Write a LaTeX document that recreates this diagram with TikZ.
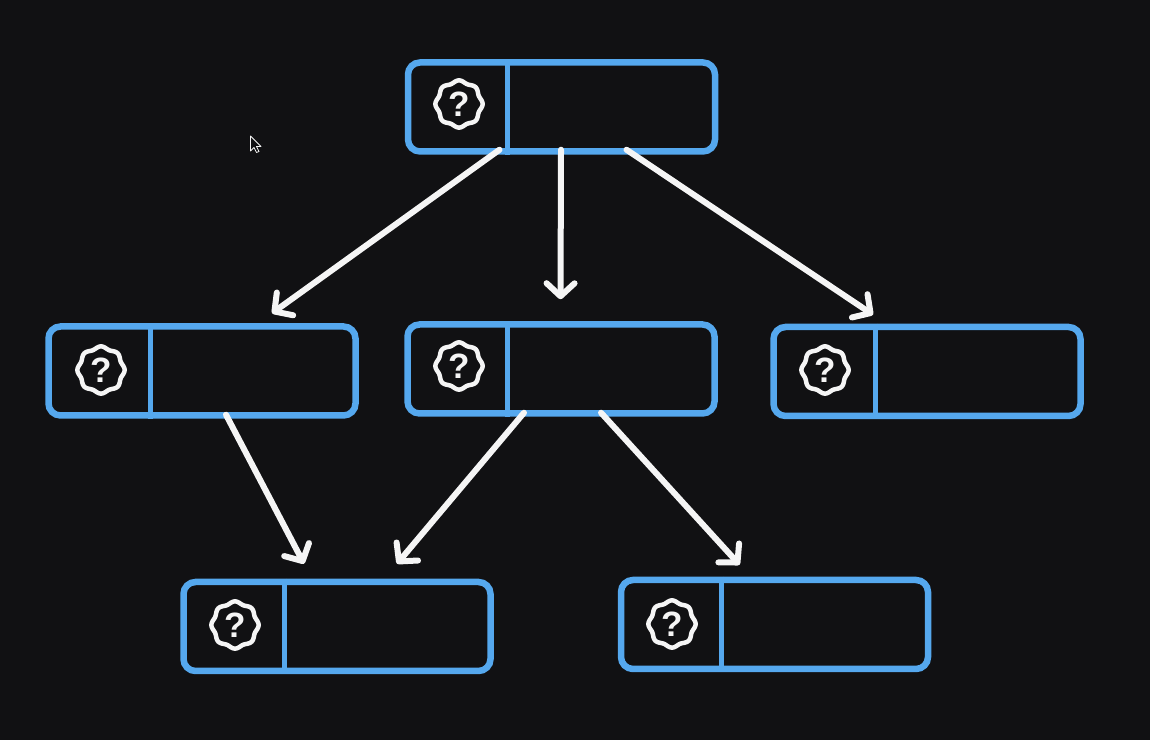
\documentclass[tikz,border=0pt]{standalone}
\usepackage{fontspec}
\setsansfont{Liberation Sans}
\usepackage{tikz}
\usetikzlibrary{arrows.meta}
\definecolor{sketchbg}{RGB}{17, 17, 19}
\definecolor{sketchblue}{RGB}{85, 168, 238}
\definecolor{sketchwhite}{RGB}{245, 245, 245}

\begin{document}
\begin{tikzpicture}[
    card/.style={draw=sketchblue, line width=0.065cm, rounded corners=0.12cm, minimum width=3.07cm, minimum height=0.89cm, inner sep=0pt},
    divider/.style={draw=sketchblue, line width=0.05cm},
    qmark/.style={text=sketchwhite, inner sep=0pt, font=\sffamily\bfseries\fontsize{10}{10}\selectfont},
    arrow/.style={-{Straight Barb[length=1.3mm, width=2.8mm, round]}, draw=sketchwhite, line width=0.06cm, line cap=round},
    badge/.pic={
      \draw[sketchwhite, line width=0.045cm, line join=round] plot[domain=0:360, samples=145, smooth]
        ({(0.225+0.011*cos(8*\x))*cos(\x)}, {(0.225+0.011*cos(8*\x))*sin(\x)}) -- cycle;
    },
  ]
  \useasboundingbox (0,0) rectangle (11.5,7.4);
  \fill[sketchbg] (0,0) rectangle (11.5,7.4);
  % Boxes
  \node[card] (root) at (5.615,6.33) {};
  \node[card] (left) at (2.02,3.69) {};
  \node[card] (mid) at (5.61,3.71) {};
  \node[card] (right) at (9.27,3.685) {};
  \node[card] (botleft) at (3.37,1.135) {};
  \node[card] (botright) at (7.745,1.155) {};
  % Dividers
  \draw[divider] ([xshift=1.03cm]root.north west) -- ([xshift=1.03cm]root.south west);
  \draw[divider] ([xshift=1.05cm]left.north west) -- ([xshift=1.05cm]left.south west);
  \draw[divider] ([xshift=1.03cm]mid.north west) -- ([xshift=1.03cm]mid.south west);
  \draw[divider] ([xshift=1.05cm]right.north west) -- ([xshift=1.05cm]right.south west);
  \draw[divider] ([xshift=1.04cm]botleft.north west) -- ([xshift=1.04cm]botleft.south west);
  \draw[divider] ([xshift=1.04cm]botright.north west) -- ([xshift=1.04cm]botright.south west);
  % Badges
  \pic at (4.59,6.36) {badge};
  \node[qmark] (qroot) at (4.59,6.36) {?};
  \pic at (1.01,3.70) {badge};
  \node[qmark] (qleft) at (1.01,3.70) {?};
  \pic at (4.59,3.74) {badge};
  \node[qmark] (qmid) at (4.59,3.74) {?};
  \pic at (8.25,3.70) {badge};
  \node[qmark] (qright) at (8.25,3.70) {?};
  \pic at (2.35,1.15) {badge};
  \node[qmark] (qbotleft) at (2.35,1.15) {?};
  \pic at (6.72,1.16) {badge};
  \node[qmark] (qbotright) at (6.72,1.16) {?};
  % Arrows
  \draw[arrow] ([xshift=-0.62cm,yshift=0.05cm]root.south) -- ([xshift=0.70cm,yshift=0.10cm]left.north);
  \draw[arrow] ([xshift=-0.005cm,yshift=0.05cm]root.south) -- ([xshift=-0.005cm,yshift=0.22cm]mid.north);
  \draw[arrow] ([xshift=0.65cm,yshift=0.05cm]root.south) -- ([xshift=-0.54cm,yshift=0.09cm]right.north);
  \draw[arrow] ([xshift=0.24cm,yshift=0.04cm]left.south) -- ([xshift=-0.33cm,yshift=0.15cm]botleft.north);
  \draw[arrow] ([xshift=-0.37cm,yshift=0.04cm]mid.south) -- ([xshift=0.60cm,yshift=0.15cm]botleft.north);
  \draw[arrow] ([xshift=0.40cm,yshift=0.04cm]mid.south) -- ([xshift=-0.35cm,yshift=0.12cm]botright.north);
  % Cursor
  \draw[sketchwhite, line width=0.008cm, fill=sketchbg, line join=round]
    (2.505,6.04) -- (2.505,5.89) -- (2.54,5.925) -- (2.565,5.875) -- (2.59,5.885)
    -- (2.565,5.935) -- (2.61,5.935) -- cycle;
\end{tikzpicture}
\end{document}
